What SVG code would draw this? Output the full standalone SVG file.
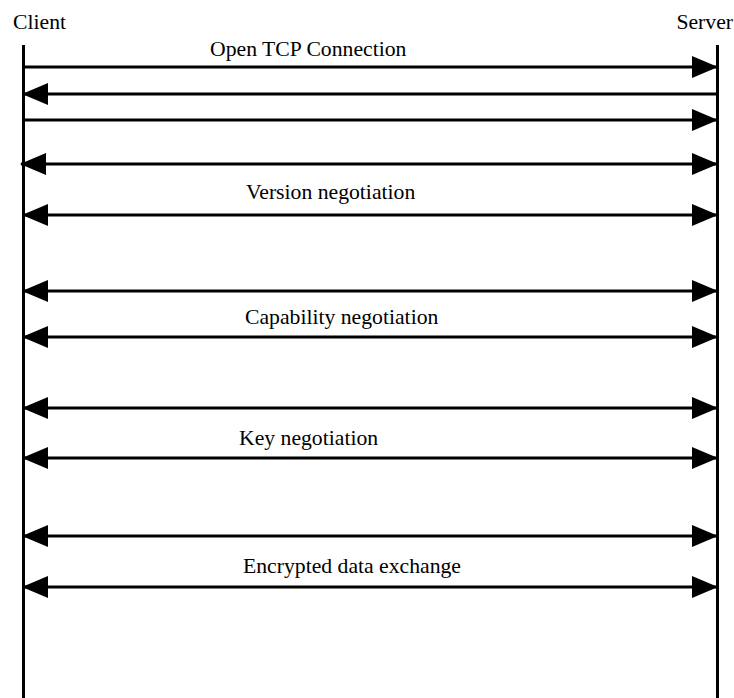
<svg xmlns="http://www.w3.org/2000/svg" width="734" height="698" viewBox="0 0 734 698">
<style>
text{font-family:"Liberation Serif","Times New Roman",serif;font-size:21.7px;fill:#000}
.life{stroke:#000;stroke-width:3}
.msg{stroke:#000;stroke-width:3;fill:none}
.r{marker-end:url(#ah)}
.l{marker-start:url(#ah)}
.b{marker-start:url(#ah);marker-end:url(#ah)}
</style>
<defs>
<marker id="ah" markerUnits="userSpaceOnUse" markerWidth="28" markerHeight="24" viewBox="0 0 28 24" refX="26" refY="12" orient="auto-start-reverse">
<path d="M1,1 L27,12 L1,23 z" fill="#000"/>
</marker>
</defs>
<g id="client">
<text x="13" y="29">Client</text>
<line class="life" x1="23.5" y1="45" x2="23.5" y2="698"/>
</g>
<g id="server">
<text x="733" y="29" text-anchor="end">Server</text>
<line class="life" x1="717.5" y1="45" x2="717.5" y2="698"/>
</g>
<g id="connectors">
<line class="msg r" x1="23" y1="67" x2="717" y2="67"/>
<line class="msg l" x1="23" y1="94" x2="717" y2="94"/>
<line class="msg r" x1="23" y1="120" x2="717" y2="120"/>
<line class="msg b" x1="21" y1="164" x2="717" y2="164"/>
<line class="msg b" x1="23" y1="215" x2="717" y2="215"/>
<line class="msg b" x1="23" y1="291" x2="717" y2="291"/>
<line class="msg b" x1="23" y1="337" x2="717" y2="337"/>
<line class="msg b" x1="23" y1="408" x2="717" y2="408"/>
<line class="msg b" x1="23" y1="458" x2="717" y2="458"/>
<line class="msg b" x1="23" y1="536" x2="717" y2="536"/>
<line class="msg b" x1="23" y1="587" x2="717" y2="587"/>
</g>
<g id="labels">
<text x="210" y="56">Open TCP Connection</text>
<text x="246" y="199">Version negotiation</text>
<text x="245" y="324">Capability negotiation</text>
<text x="239" y="445">Key negotiation</text>
<text x="243" y="573">Encrypted data exchange</text>
</g>
</svg>
